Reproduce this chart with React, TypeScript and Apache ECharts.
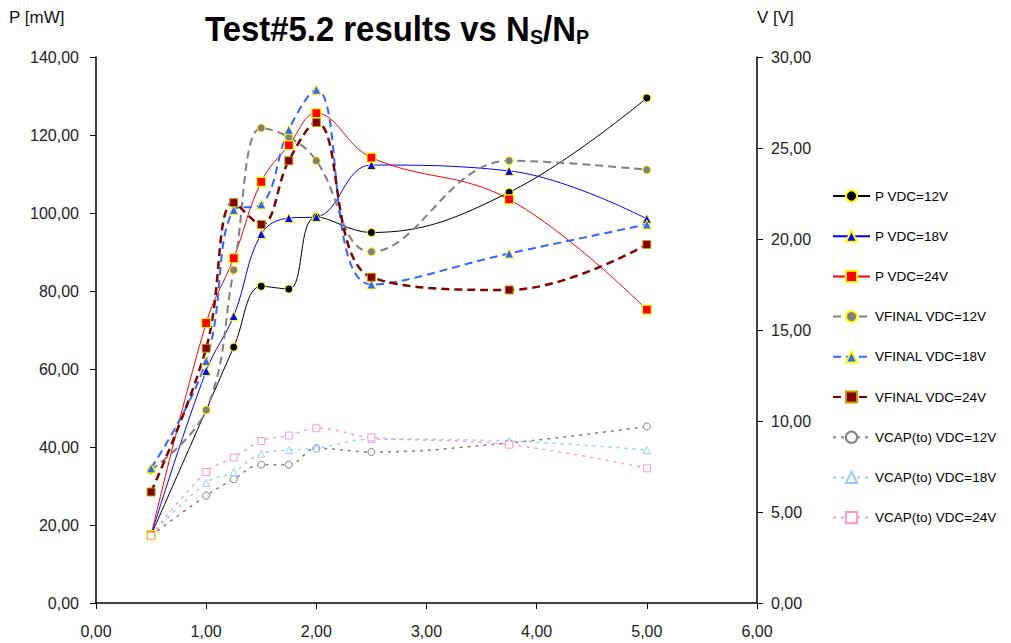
import React, { useEffect, useRef } from "react";
import * as echarts from "echarts";

const xValues = [0.5, 1.0, 1.25, 1.5, 1.75, 2.0, 2.5, 3.75, 5.0];
const pVdc12 = [17.4, 49.5, 65.6, 81.2, 80.5, 99.0, 95.0, 105.3, 129.5];
const pVdc18 = [17.4, 59.5, 73.6, 94.6, 98.7, 99.0, 112.3, 110.8, 98.5];
const pVdc24 = [17.4, 71.8, 88.4, 108.0, 117.4, 125.6, 114.2, 103.5, 75.2];
const vFinal12 = [7.3, 10.6, 18.3, 26.1, 25.6, 24.3, 19.3, 24.3, 23.8];
const vFinal18 = [7.4, 13.3, 21.6, 21.9, 26.0, 28.2, 17.5, 19.2, 20.8];
const vFinal24 = [6.1, 14.0, 22.0, 20.8, 24.3, 26.4, 17.9, 17.2, 19.7];
const vCap12 = [3.7, 5.9, 6.8, 7.6, 7.6, 8.5, 8.3, 8.8, 9.7];
const vCap18 = [3.7, 6.6, 7.2, 8.2, 8.4, 8.5, 9.0, 8.9, 8.4];
const vCap24 = [3.7, 7.2, 8.0, 8.9, 9.2, 9.6, 9.1, 8.7, 7.4];

const seriesNames = [
  "P VDC=12V",
  "P VDC=18V",
  "P VDC=24V",
  "VFINAL VDC=12V",
  "VFINAL VDC=18V",
  "VFINAL VDC=24V",
  "VCAP(to) VDC=12V",
  "VCAP(to) VDC=18V",
  "VCAP(to) VDC=24V",
];

const fmt = (v: number) => v.toFixed(2).replace(".", ",");
const pair = (ys: number[]) => xValues.map((x, i) => [x, ys[i]]);

export default function App() {
  const ref = useRef<HTMLDivElement>(null);
  useEffect(() => {
    if (!ref.current) return;
    const chart = echarts.init(ref.current, null, { renderer: "svg" });
    const font = "'Liberation Sans', Arial, sans-serif";
    const axisLabel = {
      fontFamily: font,
      fontSize: 16,
      color: "#222",
      formatter: (v: number) => fmt(v),
    };
    const mk = (
      name: string,
      data: number[],
      yAxisIndex: number,
      color: string,
      lineType: any,
      width: number,
      symbol: string,
      symbolSize: number,
      fill: string,
      border: string,
      borderWidth: number
    ) => ({
      name,
      type: "line",
      yAxisIndex,
      data: pair(data),
      smooth: 0.4,
      symbol,
      symbolSize,
      showAllSymbol: true,
      lineStyle: { color, width, type: lineType },
      itemStyle: { color: fill, borderColor: border, borderWidth },
    });
    const titleFont = "'Liberation Sans', Arial, sans-serif";
    chart.setOption({
      animation: false,
      backgroundColor: "#fff",
      graphic: [
        {
          type: "text",
          x: 205,
          y: 9,
          scaleX: 0.94,
          style: {
            text: "{a|Test#5.2 results vs N}{s|S}{a|/N}{s|P}",
            rich: {
              a: {
                fontFamily: titleFont,
                fontWeight: "bold",
                fontSize: 35,
                fill: "#000",
                lineHeight: 40,
              },
              s: {
                fontFamily: titleFont,
                fontWeight: "bold",
                fontSize: 21,
                fill: "#000",
                lineHeight: 40,
                padding: [16, 0, 0, 0],
              },
            },
          },
        },
        {
          type: "text",
          left: 9,
          top: 9,
          style: { text: "P [mW]", font: `17px ${font}`, fill: "#111" },
        },
        {
          type: "text",
          left: 757,
          top: 9,
          style: { text: "V [V]", font: `17px ${font}`, fill: "#111" },
        },
      ],
      legend: {
        orient: "vertical",
        left: 827,
        top: 184,
        itemWidth: 37,
        itemHeight: 14,
        itemGap: 26.2,
        textStyle: { fontFamily: font, fontSize: 13.5, color: "#000" },
        data: seriesNames,
      },
      grid: { left: 96, right: 254, top: 57, bottom: 40 },
      xAxis: {
        type: "value",
        min: 0,
        max: 6,
        interval: 1,
        axisLine: { lineStyle: { color: "#000", width: 1.5 } },
        axisTick: { show: true, length: 6, lineStyle: { color: "#000" } },
        splitLine: { show: false },
        axisLabel: { ...axisLabel, margin: 20 },
      },
      yAxis: [
        {
          type: "value",
          min: 0,
          max: 140,
          interval: 20,
          position: "left",
          axisLine: { show: true, lineStyle: { color: "#000", width: 1.5 } },
          axisTick: { show: true, length: 6, lineStyle: { color: "#000" } },
          splitLine: { show: false },
          axisLabel: { ...axisLabel, margin: 17 },
        },
        {
          type: "value",
          min: 0,
          max: 30,
          interval: 5,
          position: "right",
          axisLine: { show: true, lineStyle: { color: "#000", width: 1.5 } },
          axisTick: { show: true, length: 6, lineStyle: { color: "#000" } },
          splitLine: { show: false },
          axisLabel: { ...axisLabel, margin: 14 },
        },
      ],
      series: [
        mk(seriesNames[0], pVdc12, 0, "#000000", "solid", 1, "circle", 8, "#000000", "#ffff00", 1),
        mk(seriesNames[1], pVdc18, 0, "#0000ff", "solid", 1, "triangle", 9, "#0000ff", "#ffff00", 1),
        mk(seriesNames[2], pVdc24, 0, "#ff0000", "solid", 1, "rect", 9, "#ff0000", "#ffff00", 1.2),
        mk(seriesNames[3], vFinal12, 1, "#808080", [8, 5], 2, "circle", 8, "#808080", "#ffff00", 1),
        mk(seriesNames[4], vFinal18, 1, "#3366ff", [8, 5], 2, "triangle", 9, "#3366ff", "#ffff00", 1),
        mk(seriesNames[5], vFinal24, 1, "#800000", [8, 5], 2.5, "rect", 8, "#800000", "#c8a000", 1),
        mk(seriesNames[6], vCap12, 1, "#808080", [3, 5], 1.5, "circle", 7, "#ffffff", "#808080", 1),
        mk(seriesNames[7], vCap18, 1, "#99ccff", [3, 5], 1.5, "triangle", 7, "#ffffff", "#99ccff", 1),
        mk(seriesNames[8], vCap24, 1, "#ff99cc", [3, 5], 1.5, "rect", 7, "#ffffff", "#ff99cc", 1),
      ],
    });
    return () => chart.dispose();
  }, []);
  return (
    <div
      ref={ref}
      style={{ position: "fixed", left: 0, top: 0, width: 1011, height: 643, background: "#fff" }}
    />
  );
}
